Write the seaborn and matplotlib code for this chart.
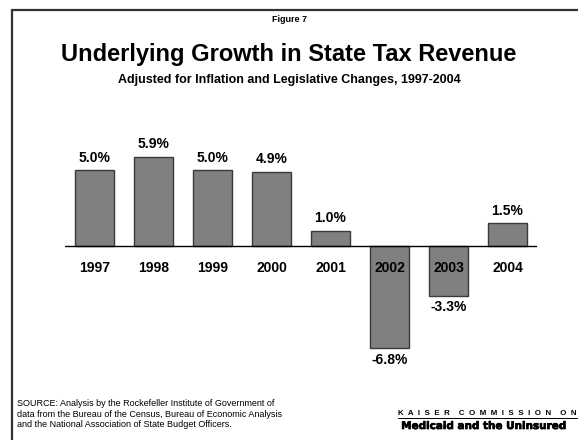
#!/usr/bin/env python3
"""Underlying growth in state tax revenue, 1997-2004 (Kaiser figure 7)."""

import matplotlib
matplotlib.use("Agg")
import matplotlib.pyplot as plt
import matplotlib.patheffects as pe
import pandas as pd
import seaborn as sns

# -- data --------------------------------------------------------------------

YEARS = ["1997", "1998", "1999", "2000", "2001", "2002", "2003", "2004"]
GROWTH = [5.0, 5.9, 5.0, 4.9, 1.0, -6.8, -3.3, 1.5]
LABELS = ["5.0%", "5.9%", "5.0%", "4.9%", "1.0%", "-6.8%", "-3.3%", "1.5%"]

TITLE = "Underlying Growth in State Tax Revenue"
SUBTITLE = "Adjusted for Inflation and Legislative Changes, 1997-2004"
SOURCE = ("SOURCE: Analysis by the Rockefeller Institute of Government of\n"
          "data from the Bureau of the Census, Bureau of Economic Analysis\n"
          "and the National Association of State Budget Officers.")
LOGO_TOP = "K  A  I  S  E  R    C  O  M  M  I  S  S  I  O  N    O  N"
LOGO_BOTTOM = "Medicaid and the Uninsured"

# -- style -------------------------------------------------------------------

sns.set_style("white")
plt.rcParams["font.family"] = ["Liberation Sans", "DejaVu Sans"]
plt.rcParams["text.color"] = "black"

BAR_COLOR = "#808080"
EDGE_COLOR = "#3a3a3a"
FRAME_COLOR = "#333333"

W, H = 578, 440


def main() -> None:
    df = pd.DataFrame({"year": YEARS, "growth": GROWTH})

    fig = plt.figure(figsize=(W / 100, H / 100), dpi=100)
    ax = fig.add_axes([65 / W, 1 - 366.5 / H, 472 / W, 226.5 / H])

    sns.barplot(data=df, x="year", y="growth", color=BAR_COLOR,
                edgecolor=EDGE_COLOR, linewidth=1.0, width=0.67,
                saturation=1, ax=ax)
    ax.set_xlim(-0.5, len(YEARS) - 0.5)
    ax.set_ylim(-8, 7)
    ax.axhline(0, color="black", lw=1.0, zorder=3)
    ax.axis("off")

    for i, (v, lab) in enumerate(zip(GROWTH, LABELS)):
        off = 9.0 if v >= 0 else -8.6
        ax.annotate(lab, (i, v), xytext=(0, off), textcoords="offset points",
                    ha="center", va="center", fontsize=10, fontweight="bold")
        ax.annotate(YEARS[i], (i, 0), xytext=(0, -16), textcoords="offset points",
                    ha="center", va="center", fontsize=10, fontweight="bold",
                    zorder=4)

    # frame lines along top and left edge
    fig.add_artist(plt.Line2D([12 / W, 12 / W], [0, 1 - 10 / H],
                              color=FRAME_COLOR, lw=1.6))
    fig.add_artist(plt.Line2D([12 / W, 1], [1 - 10 / H, 1 - 10 / H],
                              color=FRAME_COLOR, lw=1.6))

    fig.text(289 / W, 1 - 20 / H, "Figure 7", ha="center", va="center",
             fontsize=6.5, fontweight="bold")
    fig.text(289 / W, 1 - 55 / H, TITLE, ha="center", va="center",
             fontsize=17, fontweight="bold")
    fig.text(289 / W, 1 - 80 / H, SUBTITLE, ha="center", va="center",
             fontsize=9, fontweight="bold")

    fig.text(17 / W, 1 - 414 / H, SOURCE, ha="left", va="center",
             fontsize=6.5, linespacing=1.22)

    # Kaiser logo, bottom right
    fig.text(398 / W, 1 - 413 / H, LOGO_TOP, ha="left", va="center",
             fontsize=5.7, fontweight="bold")
    fig.add_artist(plt.Line2D([398 / W, 1], [1 - 417.5 / H, 1 - 417.5 / H],
                              color="black", lw=0.7))
    fig.text(484 / W, 1 - 426 / H, LOGO_BOTTOM, ha="center", va="center",
             fontsize=7.5, fontweight="heavy", family=["DejaVu Sans"],
             path_effects=[pe.withStroke(linewidth=0.5, foreground="black")])

    fig.savefig("out.png", dpi=100)
    plt.close(fig)


if __name__ == "__main__":
    main()
